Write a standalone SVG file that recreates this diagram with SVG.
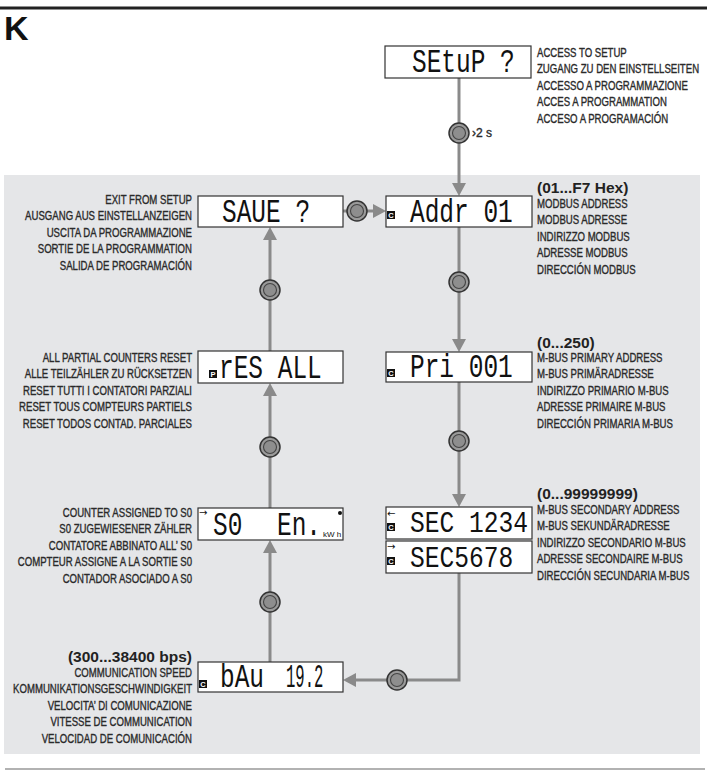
<svg xmlns="http://www.w3.org/2000/svg" width="707" height="771" viewBox="0 0 707 771">
<defs>
<style>
.lbl{font-family:"Liberation Sans",Arial,sans-serif;font-size:12px;fill:#2a2a2a;stroke:#2a2a2a;stroke-width:0.35}
.hdr{font-family:"Liberation Sans",Arial,sans-serif;font-size:15.5px;font-weight:bold;fill:#222}
.box{fill:#fff;stroke:#333;stroke-width:1.2}
.lcd{font-family:"Liberation Mono","DejaVu Sans Mono",monospace;font-size:34px;fill:#111}
.lcds{font-family:"Liberation Mono","DejaVu Sans Mono",monospace;font-size:30px;fill:#111}
.con{stroke:#8a8a8a;stroke-width:3;fill:none}
.ah{fill:#8a8a8a}
.badge{fill:#111}
.bt{font-family:"Liberation Sans",Arial,sans-serif;font-size:7.5px;font-weight:bold;fill:#fff}
.sym{font-family:"DejaVu Sans",sans-serif;font-size:10px;fill:#111}
</style>
<g id="btn">
<circle r="10" fill="#9a9a9a" stroke="#333" stroke-width="1.5"/>
<circle r="6.5" fill="#8e8e8e" stroke="#444" stroke-width="1.1"/>
</g>
</defs>
<rect width="707" height="771" fill="#fff"/>
<line x1="0" y1="8" x2="707" y2="8" stroke="#222" stroke-width="3"/>
<text x="4" y="40" font-family="Liberation Sans,Arial,sans-serif" font-size="34" font-weight="bold" fill="#111">K</text>
<rect x="4" y="175" width="696" height="579" fill="#e5e6e8"/>
<line x1="5" y1="769" x2="705" y2="769" stroke="#999" stroke-width="1.5"/>

<g id="connectors">
<line class="con" x1="459" y1="78" x2="459" y2="185"/>
<polygon class="ah" points="452,183 466,183 459,196"/>
<line class="con" x1="459" y1="227" x2="459" y2="341"/>
<polygon class="ah" points="452,339 466,339 459,352"/>
<line class="con" x1="459" y1="382" x2="459" y2="496"/>
<polygon class="ah" points="452,494 466,494 459,507"/>
<polyline class="con" points="459,573 459,680 354,680"/>
<polygon class="ah" points="343,680 356,673 356,687"/>
<line class="con" x1="270" y1="662" x2="270" y2="551"/>
<polygon class="ah" points="270,540 263,553 277,553"/>
<line class="con" x1="270" y1="508" x2="270" y2="394"/>
<polygon class="ah" points="270,383 263,396 277,396"/>
<line class="con" x1="270" y1="351" x2="270" y2="238"/>
<polygon class="ah" points="270,227 263,240 277,240"/>
<line class="con" x1="343" y1="211" x2="375" y2="211"/>
<polygon class="ah" points="386,211 373,204 373,218"/>
<use href="#btn" x="459" y="133"/>
<use href="#btn" x="459" y="282"/>
<use href="#btn" x="459" y="441"/>
<use href="#btn" x="397" y="680"/>
<use href="#btn" x="270" y="602"/>
<use href="#btn" x="270" y="447"/>
<use href="#btn" x="270" y="290"/>
<use href="#btn" x="357" y="211"/>
<text class="lbl" x="472" y="137">›2 s</text>
</g>

<g id="setup">
<rect class="box" x="385" y="46" width="146" height="32"/>
<text class="lcd" transform="translate(412,72) scale(0.72,1)">SEtuP ?</text>
<text class="lbl" transform="translate(537,0) scale(0.8,1)"><tspan x="0" y="57">ACCESS TO SETUP</tspan><tspan x="0" y="73.5">ZUGANG ZU DEN EINSTELLSEITEN</tspan><tspan x="0" y="90">ACCESSO A PROGRAMMAZIONE</tspan><tspan x="0" y="106.5">ACCES A PROGRAMMATION</tspan><tspan x="0" y="123">ACCESO A PROGRAMACIÓN</tspan></text>
</g>

<g id="addr">
<rect class="box" x="386" y="196" width="146" height="31"/>
<rect class="badge" x="387" y="211" width="8" height="8"/><text class="bt" x="391" y="218" text-anchor="middle">C</text>
<text class="lcd" transform="translate(410,222) scale(0.72,1)">Addr 01</text>
<text class="hdr" x="537" y="193">(01...F7 Hex)</text>
<text class="lbl" transform="translate(537,0) scale(0.8,1)"><tspan x="0" y="208">MODBUS ADDRESS</tspan><tspan x="0" y="224.5">MODBUS ADRESSE</tspan><tspan x="0" y="241">INDIRIZZO MODBUS</tspan><tspan x="0" y="257.5">ADRESSE MODBUS</tspan><tspan x="0" y="274">DIRECCIÓN MODBUS</tspan></text>
</g>

<g id="pri">
<rect class="box" x="386" y="352" width="146" height="30"/>
<rect class="badge" x="387" y="369" width="8" height="8"/><text class="bt" x="391" y="376" text-anchor="middle">C</text>
<text class="lcd" transform="translate(410,377) scale(0.72,1)">Pri 001</text>
<text class="hdr" x="537" y="348">(0...250)</text>
<text class="lbl" transform="translate(537,0) scale(0.8,1)"><tspan x="0" y="362">M-BUS PRIMARY ADDRESS</tspan><tspan x="0" y="378.5">M-BUS PRIMÄRADRESSE</tspan><tspan x="0" y="395">INDIRIZZO PRIMARIO M-BUS</tspan><tspan x="0" y="411.5">ADRESSE PRIMAIRE M-BUS</tspan><tspan x="0" y="428">DIRECCIÓN PRIMARIA M-BUS</tspan></text>
</g>

<g id="sec">
<rect class="box" x="386" y="507" width="146" height="32"/>
<rect class="box" x="386" y="541" width="146" height="32"/>
<text class="sym" x="387" y="517">←</text>
<text class="sym" x="387" y="550">→</text>
<rect class="badge" x="387" y="523" width="8" height="8"/><text class="bt" x="391" y="530" text-anchor="middle">C</text>
<rect class="badge" x="387" y="557" width="8" height="8"/><text class="bt" x="391" y="564" text-anchor="middle">C</text>
<text class="lcds" transform="translate(410,532) scale(0.82,1)">SEC 1234</text>
<text class="lcds" transform="translate(410,567) scale(0.82,1)">SEC5678</text>
<text class="hdr" x="537" y="499">(0...99999999)</text>
<text class="lbl" transform="translate(537,0) scale(0.8,1)"><tspan x="0" y="514">M-BUS SECONDARY ADDRESS</tspan><tspan x="0" y="530.5">M-BUS SEKUNDÄRADRESSE</tspan><tspan x="0" y="547">INDIRIZZO SECONDARIO M-BUS</tspan><tspan x="0" y="563.5">ADRESSE SECONDAIRE M-BUS</tspan><tspan x="0" y="580">DIRECCIÓN SECUNDARIA M-BUS</tspan></text>
</g>

<g id="bau">
<rect class="box" x="198" y="662" width="145" height="30"/>
<rect class="badge" x="199" y="680" width="8" height="8"/><text class="bt" x="203" y="687" text-anchor="middle">C</text>
<text class="lcd" transform="translate(220,687) scale(0.72,1)">bAu</text>
<text class="lcd" transform="translate(286,687) scale(0.72,1)" textLength="52" lengthAdjust="spacingAndGlyphs">19.2</text>
<text class="hdr" x="192" y="662" text-anchor="end">(300...38400 bps)</text>
<text class="lbl" transform="translate(192,0) scale(0.8,1)" text-anchor="end"><tspan x="0" y="677">COMMUNICATION SPEED</tspan><tspan x="0" y="693.5">KOMMUNIKATIONSGESCHWINDIGKEIT</tspan><tspan x="0" y="710">VELOCITA’ DI COMUNICAZIONE</tspan><tspan x="0" y="726.5">VITESSE DE COMMUNICATION</tspan><tspan x="0" y="743">VELOCIDAD DE COMUNICACIÓN</tspan></text>
</g>

<g id="s0">
<rect class="box" x="198" y="508" width="145" height="32"/>
<text class="sym" x="199" y="516">→</text>
<circle cx="340" cy="513" r="2" fill="#111"/>
<text class="lcd" transform="translate(213,535) scale(0.72,1)">S0</text>
<text class="lcd" transform="translate(277,535) scale(0.72,1)">En.</text>
<text x="323" y="537" font-family="Liberation Sans,Arial,sans-serif" font-size="8" fill="#111">kW h</text>
<text class="lbl" transform="translate(192,0) scale(0.8,1)" text-anchor="end"><tspan x="0" y="517">COUNTER ASSIGNED TO S0</tspan><tspan x="0" y="533.5">S0 ZUGEWIESENER ZÄHLER</tspan><tspan x="0" y="550">CONTATORE ABBINATO ALL’ S0</tspan><tspan x="0" y="566.5">COMPTEUR ASSIGNE A LA SORTIE S0</tspan><tspan x="0" y="583">CONTADOR ASOCIADO A S0</tspan></text>
</g>

<g id="res">
<rect class="box" x="198" y="351" width="145" height="32"/>
<rect class="badge" x="209" y="370" width="8" height="8"/><text class="bt" x="213" y="377" text-anchor="middle">P</text>
<text class="lcd" transform="translate(219,378) scale(0.72,1)">rES ALL</text>
<text class="lbl" transform="translate(192,0) scale(0.8,1)" text-anchor="end"><tspan x="0" y="362">ALL PARTIAL COUNTERS RESET</tspan><tspan x="0" y="378.5">ALLE TEILZÄHLER ZU RÜCKSETZEN</tspan><tspan x="0" y="395">RESET TUTTI I CONTATORI PARZIALI</tspan><tspan x="0" y="411.5">RESET TOUS COMPTEURS PARTIELS</tspan><tspan x="0" y="428">RESET TODOS CONTAD. PARCIALES</tspan></text>
</g>

<g id="save">
<rect class="box" x="198" y="196" width="145" height="31"/>
<text class="lcd" transform="translate(222,222) scale(0.72,1)">SAUE ?</text>
<text class="lbl" transform="translate(192,0) scale(0.8,1)" text-anchor="end"><tspan x="0" y="204">EXIT FROM SETUP</tspan><tspan x="0" y="220.5">AUSGANG AUS EINSTELLANZEIGEN</tspan><tspan x="0" y="237">USCITA DA PROGRAMMAZIONE</tspan><tspan x="0" y="253.5">SORTIE DE LA PROGRAMMATION</tspan><tspan x="0" y="270">SALIDA DE PROGRAMACIÓN</tspan></text>
</g>
</svg>
